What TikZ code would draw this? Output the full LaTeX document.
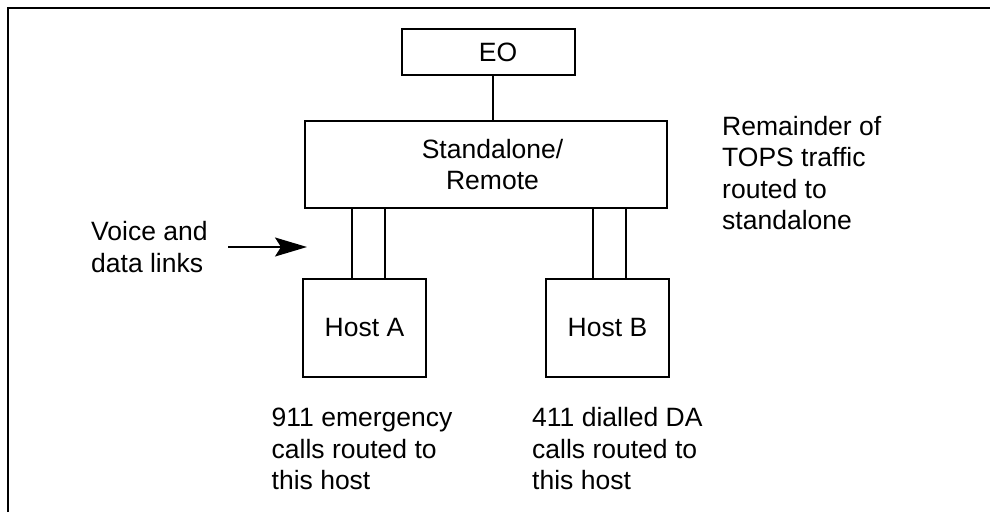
\documentclass[tikz,border=0pt]{standalone}
\usepackage{fontspec}
\setmainfont{Liberation Sans}
\usetikzlibrary{arrows.meta,calc}
\begin{document}
\begin{tikzpicture}[x=1pt,y=-1pt,
  every node/.style={font=\fontsize{26.5}{31.5}\selectfont},
  box/.style={draw,line width=1.6pt,inner sep=0pt},
  lbl/.style={align=left,anchor=west,inner sep=0pt},
  link/.style={line width=1.6pt},
  bigarrow/.style={line width=1.6pt,-{Stealth[length=32pt,width=19pt,inset=6pt]}}]
\useasboundingbox (0,0) rectangle (990,512);
% frame (top and left edges visible)
\draw[line width=1.5pt] (8,512) -- (8,8) -- (990,8);
% boxes
\node[box,minimum width=173pt,minimum height=46pt] (EO) at (488.5,52) {\hspace*{19pt}EO};
\node[box,minimum width=362pt,minimum height=87pt,align=center] (SR) at (486,164.5) {\hspace*{13pt}Standalone/\\\hspace*{13pt}Remote};
\node[box,minimum width=123pt,minimum height=98pt] (HA) at (364.5,328) {Host A};
\node[box,minimum width=123pt,minimum height=98pt] (HB) at (607.5,328) {Host B};
% labels
\node[lbl] (VD) at (91,247) {Voice and\\data links};
\node[lbl] (RT) at (722,173) {Remainder of\\TOPS traffic\\routed to\\standalone};
\node[lbl] (TA) at (271.5,449) {911 emergency\\calls routed to\\this host};
\node[lbl] (TB) at (532,449) {411 dialled DA\\calls routed to\\this host};
% connectors
\coordinate (xe) at (493,0);
\coordinate (xa1) at (352,0);
\coordinate (xa2) at (385,0);
\coordinate (xb1) at (593,0);
\coordinate (xb2) at (626,0);
\draw[link] (EO.south -| xe) -- (SR.north -| xe);
\draw[link] (SR.south -| xa1) -- (HA.north -| xa1);
\draw[link] (SR.south -| xa2) -- (HA.north -| xa2);
\draw[link] (SR.south -| xb1) -- (HB.north -| xb1);
\draw[link] (SR.south -| xb2) -- (HB.north -| xb2);
% arrow
\coordinate (tail) at (228,247);
\coordinate (tip) at (307,247);
\draw[bigarrow] (tail) -- (tip);
\end{tikzpicture}
\end{document}
